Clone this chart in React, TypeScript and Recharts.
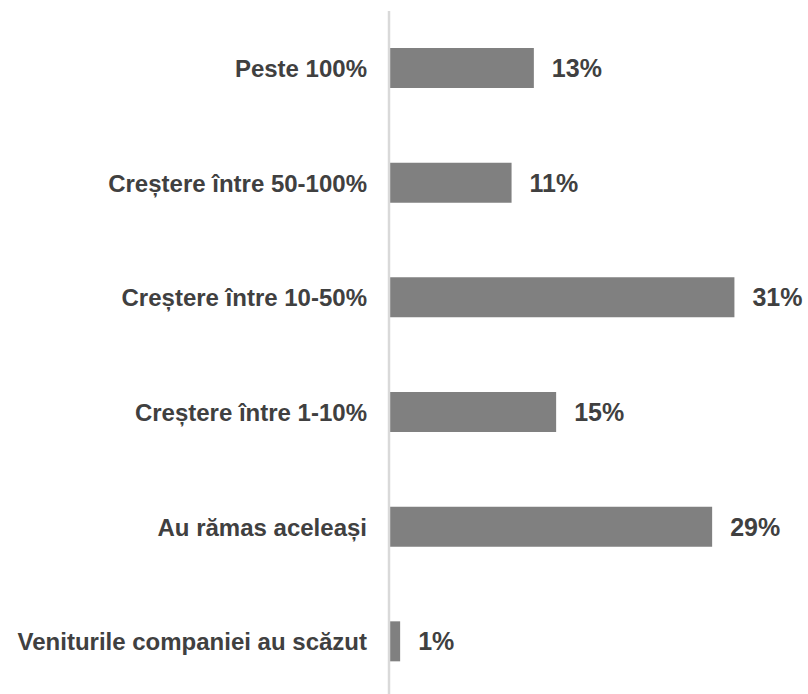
import React from "react";
import { BarChart, Bar, XAxis, YAxis, LabelList } from "recharts";

const categories = [
  "Peste 100%",
  "Creștere între 50-100%",
  "Creștere între 10-50%",
  "Creștere între 1-10%",
  "Au rămas aceleași",
  "Veniturile companiei au scăzut",
];
const values = [13, 11, 31, 15, 29, 1];

const data = categories.map((name, i) => ({ name, value: values[i] }));

const FONT = "'Liberation Sans', Arial, sans-serif";

export default function App() {
  return (
    <div style={{ position: "absolute", left: 0, top: 0 }}>
      <BarChart
        width={808}
        height={699}
        data={data}
        layout="vertical"
        margin={{ top: 11, right: 29, bottom: 0, left: 0 }}
      >
        <XAxis type="number" domain={[0, 35]} hide />
        <YAxis
          type="category"
          dataKey="name"
          width={389}
          axisLine={{ stroke: "#d9d9d9", strokeWidth: 2.5 }}
          tickLine={false}
          tickMargin={16}
          interval={0}
          tick={{ fill: "#404040", fontSize: 24, fontWeight: "bold", fontFamily: FONT }}
        />
        <Bar dataKey="value" fill="#808080" barSize={40} isAnimationActive={false}>
          <LabelList
            dataKey="value"
            position="right"
            offset={18}
            formatter={(v: number) => `${v}%`}
            style={{ fill: "#404040", fontSize: 25, fontWeight: "bold", fontFamily: FONT }}
          />
        </Bar>
      </BarChart>
    </div>
  );
}
